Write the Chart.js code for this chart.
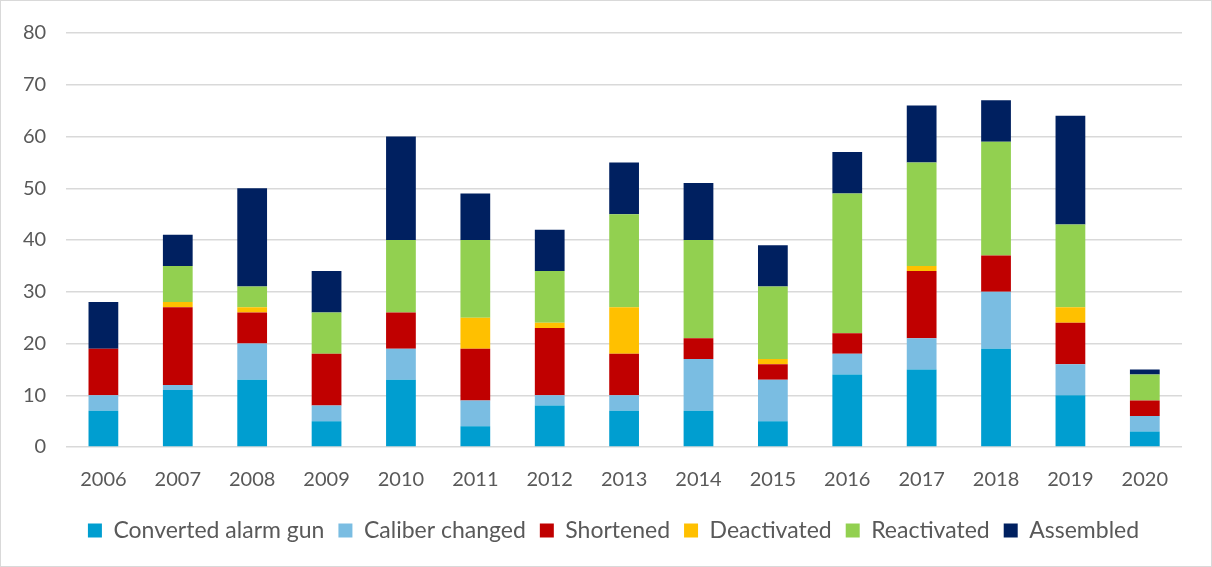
<!DOCTYPE html>
<html>
<head>
<meta charset="utf-8">
<script src="https://cdn.jsdelivr.net/npm/chart.js@4.4.0/dist/chart.umd.min.js"></script>
<style>
  body { margin: 0; background: #fff; }
  #wrap { width: 1210px; height: 565px; border: 1px solid #d9d9d9; }
</style>
</head>
<body>
<div id="wrap"><canvas id="myChart" width="1210" height="565"></canvas></div>
<script>
const years = ['2006', '2007', '2008', '2009', '2010', '2011', '2012', '2013', '2014', '2015', '2016', '2017', '2018', '2019', '2020'];

const alarmGun    = [7, 11, 13, 5, 13, 4, 8, 7, 7, 5, 14, 15, 19, 10, 3];
const caliber     = [3, 1, 7, 3, 6, 5, 2, 3, 10, 8, 4, 6, 11, 6, 3];
const shortened   = [9, 15, 6, 10, 7, 10, 13, 8, 4, 3, 4, 13, 7, 8, 3];
const deactivated = [0, 1, 1, 0, 0, 6, 1, 9, 0, 1, 0, 1, 0, 3, 0];
const reactivated = [0, 7, 4, 8, 14, 15, 10, 18, 19, 14, 27, 20, 22, 16, 5];
const assembled   = [9, 6, 19, 8, 20, 9, 8, 10, 11, 8, 8, 11, 8, 21, 1];

const yTicks = [0, 10, 20, 30, 40, 50, 60, 70, 80];

const fontName = 'Lato, "Open Sans", sans-serif';
const textColor = '#595959';

function series(label, data, color) {
    return {
        label: label,
        data: data,
        backgroundColor: color,
        borderWidth: 0,
        barPercentage: 0.4,
        categoryPercentage: 1.0
    };
}

// legend sits a bit right of the chart-area centre in the original
const shiftLegend = {
    id: 'shiftLegend',
    afterLayout: function (chart) {
        chart.legend.left += 21;
        chart.legend.right += 21;
    }
};

let ctx = document.getElementById('myChart').getContext('2d');
let myChart = new Chart(ctx, {
    type: 'bar',
    data: {
        labels: years,
        datasets: [
            series('Converted alarm gun', alarmGun, '#009ed0'),
            series('Caliber changed', caliber, '#7abde2'),
            series('Shortened', shortened, '#c00000'),
            series('Deactivated', deactivated, '#ffc000'),
            series('Reactivated', reactivated, '#92d050'),
            series('Assembled', assembled, '#002060')
        ]
    },
    plugins: [shiftLegend],
    options: {
        responsive: false,
        animation: false,
        layout: {
            padding: { left: 2, right: 29, top: 22, bottom: 14 }
        },
        plugins: {
            tooltip: { enabled: false },
            legend: {
                position: 'bottom',
                labels: {
                    color: textColor,
                    font: { family: fontName, size: 23 },
                    boxWidth: 14,
                    boxHeight: 14,
                    padding: 14
                }
            }
        },
        scales: {
            x: {
                stacked: true,
                grid: { display: false },
                border: { display: false },
                ticks: {
                    color: textColor,
                    font: { family: fontName, size: 20 },
                    padding: 13
                }
            },
            y: {
                stacked: true,
                min: 0,
                max: 80,
                afterBuildTicks: function (axis) {
                    axis.ticks = yTicks.map(function (v) { return { value: v }; });
                },
                grid: {
                    color: '#d9d9d9',
                    lineWidth: 1.5,
                    drawTicks: false
                },
                border: { display: false },
                ticks: {
                    color: textColor,
                    font: { family: fontName, size: 20 },
                    padding: 20
                }
            }
        }
    }
});
</script>
</body>
</html>
